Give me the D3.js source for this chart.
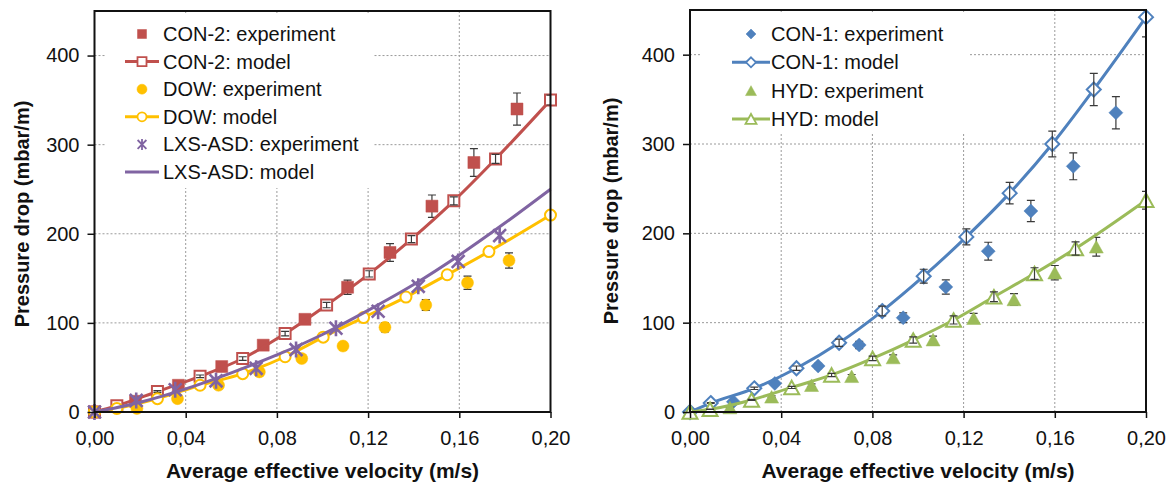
<!DOCTYPE html>
<html>
<head>
<meta charset="utf-8">
<script src="https://cdn.jsdelivr.net/npm/d3@7"></script>
<style>
  html, body { margin: 0; padding: 0; background: #ffffff; }
  svg { display: block; font-family: "Liberation Sans", Arial, sans-serif; }
</style>
</head>
<body>
<svg id="chart" width="1171" height="486"></svg>
<script>
// Axis ticks shared by both panels
const velocityTicks = [0, 0.04, 0.08, 0.12, 0.16, 0.20];
const velocityTickLabels = ["0,00", "0,04", "0,08", "0,12", "0,16", "0,20"];
const pressureTicks = [0, 100, 200, 300, 400];
const pressureTickLabels = ["0", "100", "200", "300", "400"];
const xTitle = "Average effective velocity (m/s)";
const yTitle = "Pressure drop (mbar/m)";

// CON-2 (left panel)
const con2ExpV   = [0, 0.018, 0.0368, 0.0558, 0.074, 0.0923, 0.111, 0.1296, 0.148, 0.1664, 0.1853];
const con2ExpP   = [0, 12, 30, 51, 75, 104, 140, 179, 231, 280, 340];
const con2ExpErr = [0, 1, 2, 3, 4, 5, 8, 10, 12.5, 15.5, 18];
const con2ModV   = [0, 0.0098, 0.0276, 0.0463, 0.065, 0.0836, 0.1018, 0.1205, 0.139, 0.1576, 0.1759, 0.20];
const con2ModP   = [0, 7, 23, 40, 60, 88, 120, 155, 194, 237, 284, 350];
const con2ModErr = [0, 0.5, 1, 1.5, 2, 2.5, 3, 3.5, 4, 4.5, 5, 5.5];

// DOW (left panel)
const dowExpV   = [0, 0.0186, 0.0364, 0.0544, 0.0723, 0.0909, 0.109, 0.1274, 0.1453, 0.1636, 0.1818];
const dowExpP   = [0, 4, 15, 30, 45, 60, 74, 95, 120, 145, 170];
const dowExpErr = [0, 0.5, 1, 1.5, 2, 3, 4, 5, 6, 7.5, 8.5];
const dowModV   = [0, 0.0098, 0.0276, 0.0463, 0.065, 0.0836, 0.1003, 0.118, 0.1366, 0.1547, 0.173, 0.20];
const dowModP   = [0, 4, 15, 30, 43, 62, 84, 106, 129, 154, 180, 221];

// LXS-ASD (left panel)
const lxsExpV = [0, 0.0183, 0.0354, 0.0533, 0.0709, 0.0884, 0.1059, 0.1244, 0.142, 0.1595, 0.1777];
const lxsExpP = [0, 13, 25, 35, 49, 70, 94, 113, 141, 169, 198];
const lxsModV = [0, 0.02, 0.04, 0.06, 0.08, 0.10, 0.12, 0.14, 0.16, 0.18, 0.20];
const lxsModP = [0, 11, 26, 44, 64, 87, 114, 143, 176, 212, 250];

// CON-1 (right panel)
const con1ExpV   = [0, 0.019, 0.0372, 0.0562, 0.0742, 0.0935, 0.1122, 0.1308, 0.1495, 0.1681, 0.1868];
const con1ExpP   = [0, 11.5, 32, 51.5, 75, 105.5, 140, 180, 225, 275, 335];
const con1ExpErr = [0, 1, 2, 3, 4, 5.5, 8, 10, 12, 15, 18];
const con1ModV   = [0, 0.0091, 0.0282, 0.0467, 0.0654, 0.0843, 0.1025, 0.1212, 0.1402, 0.1589, 0.1771, 0.20];
const con1ModP   = [0, 10, 26.5, 49, 77.5, 113, 152, 196, 245, 300, 361, 442];
const con1ModErr = [0, 0.5, 1.3, 2.5, 4, 5.5, 7.8, 9, 12, 14.5, 18, 22];

// HYD (right panel)
const hydExpV   = [0, 0.0175, 0.0358, 0.0533, 0.0709, 0.0891, 0.1066, 0.1244, 0.1421, 0.16, 0.1782];
const hydExpP   = [0, 5, 17, 30, 40, 61, 81, 105, 126, 156, 185];
const hydExpErr = [0, 0.3, 1, 1.5, 2, 3, 4, 5.5, 6.5, 8, 10.5];
const hydModV   = [0, 0.0088, 0.027, 0.0446, 0.0621, 0.0801, 0.0979, 0.1156, 0.1333, 0.1511, 0.1691, 0.20];
const hydModP   = [0, 3, 13.5, 27.5, 41.5, 60, 80.5, 103, 129, 155, 183, 237];
const hydModErr = [0, 0.2, 0.6, 1.2, 1.8, 2.5, 3.5, 4.5, 5.5, 6.5, 7.5, 10];

const RED = "#C0504D", YELLOW = "#FFC000", PURPLE = "#8064A2", BLUE = "#4F81BD", GREEN = "#9BBB59";
const ERR_COLOR = "#3a3a3a";

function zip(v, p, e) {
  return v.map((vi, i) => ({ v: vi, p: p[i], e: e ? e[i] : 0 }));
}

// Marker glyph outlines, centred on (0,0), r = half size
function markerPath(type, r) {
  switch (type) {
    case "square":
      return `M${-r},${-r}H${r}V${r}H${-r}Z`;
    case "circle":
      return `M${r},0A${r},${r} 0 1,1 ${-r},0A${r},${r} 0 1,1 ${r},0Z`;
    case "diamond":
      return `M0,${-r}L${r},0L0,${r}L${-r},0Z`;
    case "triangle": {
      const h = r * 0.9;
      return `M0,${-h}L${r},${h}L${-r},${h}Z`;
    }
    case "asterisk": {
      const a = r * 0.8;
      return `M${-a},${-a}L${a},${a}M${-a},${a}L${a},${-a}M0,${-r}V${r}`;
    }
  }
}

const svg = d3.select("#chart");
let clipCount = 0;

function drawPanel(cfg) {
  const x = d3.scaleLinear().domain([0, 0.20]).range([cfg.left, cfg.right]);
  const y = d3.scaleLinear().domain([0, 450]).range([cfg.bottom, cfg.top]);
  const g = svg.append("g");

  const clipId = "plotclip" + (clipCount++);
  g.append("clipPath").attr("id", clipId)
    .append("rect")
    .attr("x", cfg.left).attr("y", cfg.top)
    .attr("width", cfg.right - cfg.left).attr("height", cfg.bottom - cfg.top);

  // dotted gridlines
  const grid = g.append("g")
    .attr("stroke", "#9a9a9a").attr("stroke-width", 1).attr("stroke-dasharray", "2,2");
  grid.selectAll("line.h").data(pressureTicks.filter(d => d > 0)).join("line")
    .attr("class", "h")
    .attr("x1", cfg.left).attr("x2", cfg.right)
    .attr("y1", d => y(d)).attr("y2", d => y(d));
  grid.selectAll("line.v").data(velocityTicks.filter(d => d > 0 && d < 0.2)).join("line")
    .attr("class", "v")
    .attr("y1", cfg.top).attr("y2", cfg.bottom)
    .attr("x1", d => x(d)).attr("x2", d => x(d));

  // legend background hides the grid behind it
  const L = cfg.legend;
  g.append("rect")
    .attr("x", L.box[0]).attr("y", L.box[1])
    .attr("width", L.box[2] - L.box[0]).attr("height", L.box[3] - L.box[1])
    .attr("fill", "#ffffff");

  const line = d3.line().x(d => x(d.v)).y(d => y(d.p)).curve(d3.curveMonotoneX);

  function errorBars(sel, s) {
    const eb = sel.append("g").attr("clip-path", `url(#${clipId})`)
      .attr("stroke", ERR_COLOR).attr("stroke-width", 1.2).attr("fill", "none");
    const pts = s.data.filter(d => d.e > 0);
    eb.selectAll("path").data(pts).join("path")
      .attr("d", d => {
        const cx = x(d.v), y1 = y(d.p + d.e), y2 = y(d.p - d.e);
        return `M${cx},${y1}V${y2}M${cx - 4},${y1}H${cx + 4}M${cx - 4},${y2}H${cx + 4}`;
      });
  }

  cfg.series.forEach(s => {
    const sg = g.append("g");
    if (s.line) {
      sg.append("path").datum(s.data)
        .attr("d", line).attr("fill", "none")
        .attr("stroke", s.color).attr("stroke-width", 3)
        .attr("stroke-linejoin", "round");
    }
    if (s.marker && s.filled && s.err) errorBars(sg, s);
    if (s.marker) {
      sg.selectAll("path.m").data(s.data).join("path")
        .attr("class", "m")
        .attr("transform", d => `translate(${x(d.v)},${y(d.p)})`)
        .attr("d", markerPath(s.marker, s.size))
        .attr("fill", s.marker === "asterisk" ? "none" : (s.filled ? s.color : "#ffffff"))
        .attr("stroke", s.color)
        .attr("stroke-width", s.marker === "asterisk" ? 2.6 : (s.filled ? 0.5 : 2));
    }
    if (s.marker && !s.filled && s.err) errorBars(sg, s);
  });

  // legend entries
  const lg = g.append("g");
  cfg.series.forEach((s, i) => {
    const ry = L.rowY + i * L.step;
    if (s.line) {
      lg.append("line")
        .attr("x1", L.lineX0).attr("x2", L.lineX1)
        .attr("y1", ry).attr("y2", ry)
        .attr("stroke", s.color).attr("stroke-width", 3);
    }
    if (s.marker) {
      lg.append("path")
        .attr("transform", `translate(${L.markerX},${ry})`)
        .attr("d", markerPath(s.marker, s.legendSize))
        .attr("fill", s.marker === "asterisk" ? "none" : (s.filled ? s.color : "#ffffff"))
        .attr("stroke", s.color)
        .attr("stroke-width", s.marker === "asterisk" ? 1.8 : (s.filled ? 0.5 : 1.8));
    }
    lg.append("text")
      .attr("x", L.textX).attr("y", ry + 7)
      .attr("font-size", 20).attr("fill", "#111")
      .text(s.name);
  });

  // plot frame
  g.append("rect")
    .attr("x", cfg.left).attr("y", cfg.top)
    .attr("width", cfg.right - cfg.left).attr("height", cfg.bottom - cfg.top)
    .attr("fill", "none").attr("stroke", "#111").attr("stroke-width", 2);

  // axes
  const xAxis = d3.axisBottom(x).tickValues(velocityTicks)
    .tickFormat((d, i) => velocityTickLabels[i]).tickSize(6).tickPadding(13);
  const yAxis = d3.axisLeft(y).tickValues(pressureTicks)
    .tickFormat((d, i) => pressureTickLabels[i]).tickSize(7).tickPadding(8);

  const gx = g.append("g").attr("transform", `translate(0,${cfg.bottom})`).call(xAxis);
  const gy = g.append("g").attr("transform", `translate(${cfg.left},0)`).call(yAxis);
  [gx, gy].forEach(a => {
    a.select(".domain").remove();
    a.selectAll(".tick line").attr("stroke", "#111").attr("stroke-width", 1.5);
    a.selectAll(".tick text").attr("font-size", 20).attr("fill", "#111")
      .attr("font-family", "'Liberation Sans', Arial, sans-serif");
  });

  // axis titles
  g.append("text")
    .attr("x", (cfg.left + cfg.right) / 2).attr("y", 478)
    .attr("text-anchor", "middle").attr("font-size", 21).attr("font-weight", "bold")
    .attr("fill", "#111").text(xTitle);
  g.append("text")
    .attr("transform", `translate(${cfg.yTitleX},${cfg.yTitleY}) rotate(-90)`)
    .attr("text-anchor", "middle").attr("font-size", 20).attr("font-weight", "bold")
    .attr("fill", "#111").text(yTitle);
}

drawPanel({
  left: 94.5, right: 550.5, top: 11, bottom: 412,
  yTitleX: 29, yTitleY: 214,
  legend: { box: [105, 15, 373, 188], rowY: 34, step: 27.6, lineX0: 125, lineX1: 159, markerX: 142, textX: 163 },
  series: [
    { name: "CON-2: experiment", color: RED, marker: "square", filled: true, size: 6, legendSize: 4.5, line: false, err: true, data: zip(con2ExpV, con2ExpP, con2ExpErr) },
    { name: "CON-2: model", color: RED, marker: "square", filled: false, size: 5.5, legendSize: 4.5, line: true, err: true, data: zip(con2ModV, con2ModP, con2ModErr) },
    { name: "DOW: experiment", color: YELLOW, marker: "circle", filled: true, size: 6, legendSize: 5, line: false, err: true, data: zip(dowExpV, dowExpP, dowExpErr) },
    { name: "DOW: model", color: YELLOW, marker: "circle", filled: false, size: 5.5, legendSize: 4.5, line: true, err: false, data: zip(dowModV, dowModP) },
    { name: "LXS-ASD: experiment", color: PURPLE, marker: "asterisk", filled: false, size: 8, legendSize: 5.5, line: false, err: false, data: zip(lxsExpV, lxsExpP) },
    { name: "LXS-ASD: model", color: PURPLE, marker: null, filled: false, size: 0, legendSize: 0, line: true, err: false, data: zip(lxsModV, lxsModP) }
  ]
});

drawPanel({
  left: 690, right: 1146, top: 10, bottom: 412,
  yTitleX: 617.5, yTitleY: 211,
  legend: { box: [700, 14, 968, 133], rowY: 34, step: 28.3, lineX0: 732, lineX1: 770, markerX: 751, textX: 771 },
  series: [
    { name: "CON-1: experiment", color: BLUE, marker: "diamond", filled: true, size: 7, legendSize: 5, line: false, err: true, data: zip(con1ExpV, con1ExpP, con1ExpErr) },
    { name: "CON-1: model", color: BLUE, marker: "diamond", filled: false, size: 7, legendSize: 5, line: true, err: true, data: zip(con1ModV, con1ModP, con1ModErr) },
    { name: "HYD: experiment", color: GREEN, marker: "triangle", filled: true, size: 7, legendSize: 5.5, line: false, err: true, data: zip(hydExpV, hydExpP, hydExpErr) },
    { name: "HYD: model", color: GREEN, marker: "triangle", filled: false, size: 7.5, legendSize: 5.5, line: true, err: true, data: zip(hydModV, hydModP, hydModErr) }
  ]
});
</script>
</body>
</html>
